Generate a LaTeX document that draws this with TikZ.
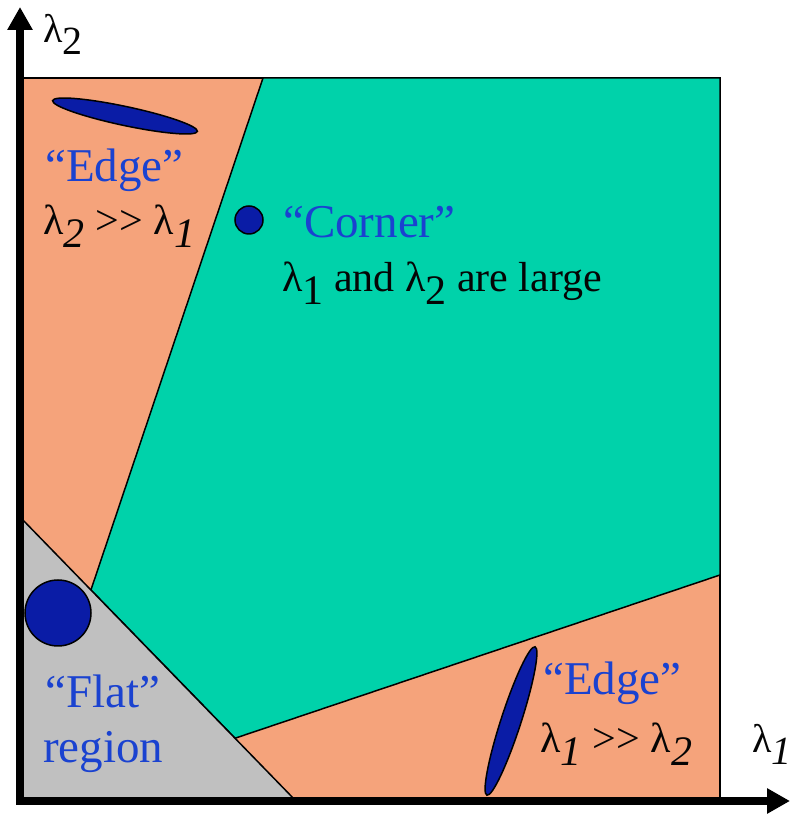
\documentclass[tikz,border=0pt]{standalone}
\usepackage{fontspec}
\setmainfont{Liberation Serif}
\usetikzlibrary{arrows.meta,shapes.geometric,calc}
\definecolor{hcedge}{HTML}{F5A37B}
\definecolor{hccorner}{HTML}{00D2AA}
\definecolor{hcflat}{HTML}{C0C0C0}
\definecolor{hcblob}{HTML}{0A1CA6}
\definecolor{hcword}{HTML}{1A42D0}
\definecolor{hcink}{HTML}{050505}
\newcommand{\lsub}[1]{\raisebox{-0.3em}{#1}}
\newcommand{\muchmore}{>\kern1pt>}
\tikzset{
  region/.style = {draw=black, line width=1.5pt, line join=miter},
  blob/.style   = {ellipse, draw=black, line width=1.5pt, fill=hcblob, inner sep=0pt},
  word/.style   = {anchor=base west, inner sep=0pt, text=hcword,
                   font=\fontsize{47}{52}\selectfont},
  eig/.style    = {anchor=base west, inner sep=0pt, text=hcink,
                   font=\fontsize{42}{48}\selectfont},
  axlbl/.style  = {eig, font=\fontsize{40}{46}\selectfont},
  axis/.style   = {line width=7.5pt,
                   {Triangle[length=23pt,width=24pt]}-{Triangle[length=23pt,width=24pt]}},
}

\begin{document}
\begin{tikzpicture}[x=1pt,y=1pt]
\useasboundingbox (0,0) rectangle (794,817);

% plot frame
\coordinate (O) at (20,16);
\coordinate (ytip) at (20,810);
\coordinate (xtip) at (790,16);
\coordinate (fa) at (20,300);
\coordinate (fb) at (296,16);

% regions
\draw[region, fill=hcedge] (O) rectangle (720,739);
\draw[region, fill=hccorner] (263,739) -- (720,739) -- (720,242)
  -- ($(fa)!0.779!(fb)$) -- ($(fa)!0.257!(fb)$) -- cycle;
\draw[region, fill=hcflat] (fa) -- (fb) -- (O) -- cycle;

% blobs
\node[blob, minimum width=148pt, minimum height=19pt, rotate=-12] (edgeblobA) at (125,701) {};
\node[blob, circle, minimum size=28pt] (cornerblob) at (249,597) {};
\node[blob, circle, minimum size=66pt] (flatblob) at (58,204) {};
\node[blob, minimum width=156pt, minimum height=20pt, rotate=72] (edgeblobB) at (511,96) {};

% texts
\node[axlbl] (l2ax) at (43,774) {λ\lsub{2}};
\node[axlbl] (l1ax) at (752,64) {λ\lsub{\textit{1}}};
\node[word] (edgeA) at (45,635) {“Edge”};
\node[eig] (edgeAeq) at (43,582) {λ\lsub{\textit{2}} \muchmore{} λ\lsub{\textit{1}}};
\node[word] (corner) at (283,579) {“Corner”};
\node[eig] (cornereq) at (282,525) {λ\lsub{1} and λ\lsub{2} are large};
\node[word] (flat) at (45,109) {“Flat”};
\node[word] (flatreg) at (43,54) {region};
\node[word] (edgeB) at (543,122) {“Edge”};
\node[eig] (edgeBeq) at (540,64) {λ\lsub{\textit{1}} \muchmore{} λ\lsub{\textit{2}}};

% axes
\draw[axis] (ytip) -- (O) -- (xtip);

\end{tikzpicture}
\end{document}
